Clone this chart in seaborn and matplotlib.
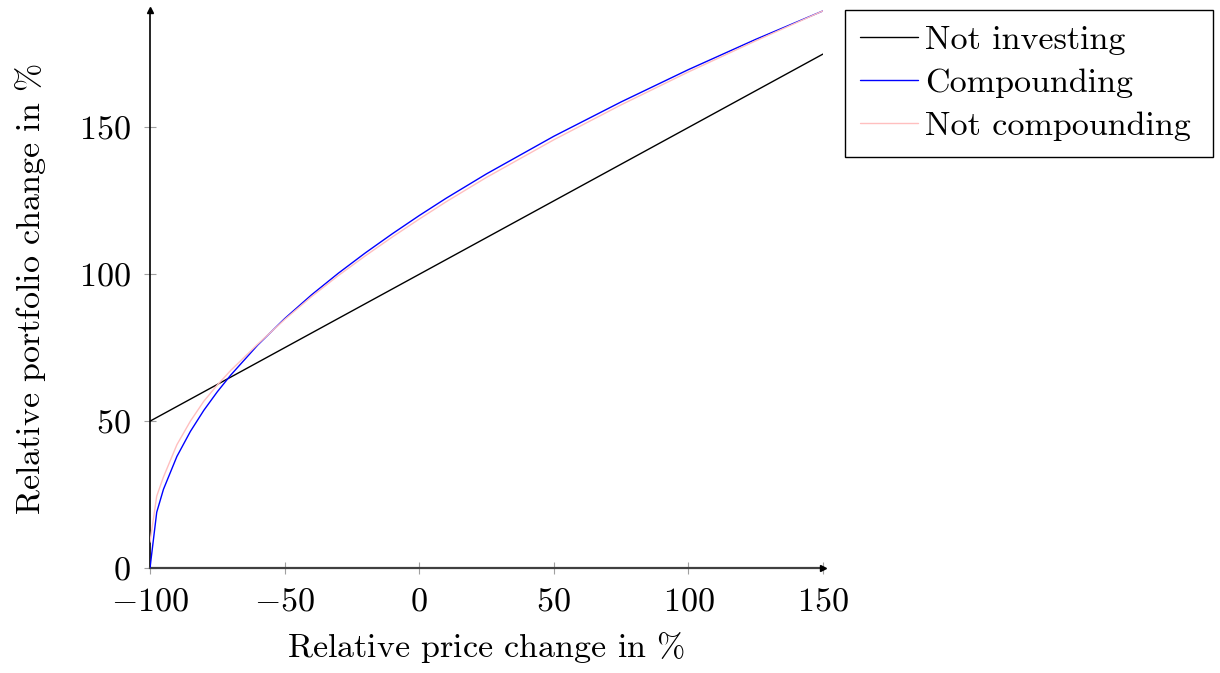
import matplotlib
matplotlib.use('Agg')
import matplotlib.pyplot as plt
import seaborn as sns
import pandas as pd

# Relative price change (%) and portfolio change (%)
price_change = [-100, -97.5, -95, -90, -85, -80, -75, -70, -60, -50, -40, -30,
                -20, -10, 0, 10, 25, 50, 75, 100, 125, 150]
not_investing = [50, 51.25, 52.5, 55, 57.5, 60, 62.5, 65, 70, 75, 80, 85,
                 90, 95, 100, 105, 112.5, 125, 137.5, 150, 162.5, 175]
compounding = [0, 19, 26.8, 38, 46.5, 53.7, 60, 65.7, 75.9, 84.9, 93, 100.4,
               107.3, 113.8, 120, 125.9, 134.2, 147, 158.7, 169.7, 180, 189.7]
not_compounding = [8.8, 24.5, 31, 42, 50, 56.8, 62.3, 67.3, 76.2, 84.6, 92.4, 99.6,
                   106.3, 112.7, 118.8, 124.7, 133, 145.8, 157.7, 168.9, 179.5, 189.7]

series_names = ['Not investing', 'Compounding', 'Not compounding']
series_colors = ['#000000', '#0000ff', '#ffbfbf']

sns.set_style('white')
plt.rcParams['font.family'] = 'serif'
plt.rcParams['font.serif'] = ['cmr10', 'DejaVu Serif']
plt.rcParams['mathtext.fontset'] = 'cm'
plt.rcParams['axes.formatter.use_mathtext'] = True
plt.rcParams['axes.unicode_minus'] = True
plt.rcParams['text.color'] = 'black'
plt.rcParams['axes.labelcolor'] = 'black'
plt.rcParams['xtick.labelcolor'] = 'black'
plt.rcParams['ytick.labelcolor'] = 'black'

fs = 24.5

df = pd.DataFrame({'x': price_change,
                   series_names[0]: not_investing,
                   series_names[1]: compounding,
                   series_names[2]: not_compounding})

fig = plt.figure(figsize=(12.2, 6.73), dpi=100)
ax = fig.add_axes([150/1220, 1 - 568/673, 673/1220, 558/673])

for name, color in zip(series_names, series_colors):
    sns.lineplot(data=df, x='x', y=name, color=color, linewidth=1.0, ax=ax,
                 label=name, legend=False)

ax.set_xlim(-100, 150)
ax.set_ylim(0, 190)
ax.set_xticks([-100, -50, 0, 50, 100, 150])
ax.set_yticks([0, 50, 100, 150])
ax.set_xlabel('Relative price change in $\\%$', fontsize=fs, labelpad=10)
ax.set_ylabel('Relative portfolio change in $\\%$', fontsize=fs, labelpad=22)
ax.tick_params(axis='both', labelsize=fs, direction='inout', length=8,
               width=0.8, color='#a0a0a0', bottom=True, left=True)
ax.tick_params(axis='x', pad=10)
ax.tick_params(axis='y', pad=10)

for s in ['top', 'right']:
    ax.spines[s].set_visible(False)
ax.spines['left'].set_color('black')
ax.spines['left'].set_linewidth(1.2)
ax.spines['bottom'].set_color('#404040')
ax.spines['bottom'].set_linewidth(1.6)
ax.spines['left'].set_zorder(1)
ax.spines['bottom'].set_zorder(1)

# arrow heads on the axis lines
ax.plot(1, 0, marker='>', color='black', markersize=5, transform=ax.transAxes, clip_on=False)
ax.plot(0, 1.0, marker='^', color='black', markersize=5, transform=ax.transAxes, clip_on=False)

handles, labels = ax.get_legend_handles_labels()
leg = fig.legend(handles, labels, loc='upper left',
                 bbox_to_anchor=(845/1220, 1 - 10/673, 368/1220, 0), mode='expand',
                 fontsize=fs,
                 frameon=True, fancybox=False, edgecolor='black', framealpha=1,
                 handlelength=1.7, handletextpad=0.2, labelspacing=0.39,
                 borderpad=0.45, borderaxespad=0)
leg.get_frame().set_linewidth(1.0)

fig.savefig('out.png', dpi=100)
